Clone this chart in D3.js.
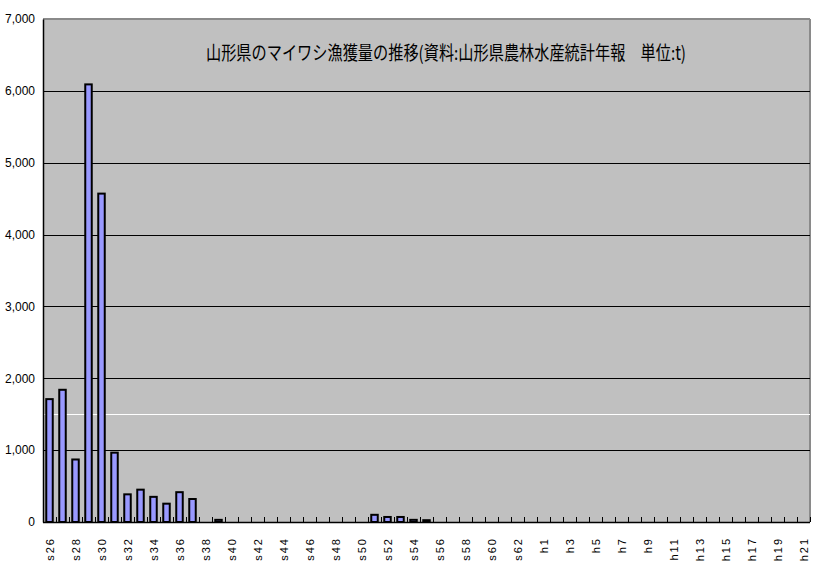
<!DOCTYPE html>
<html>
<head>
<meta charset="utf-8">
<script src="https://cdn.jsdelivr.net/npm/d3@7"></script>
<style>
  html, body { margin: 0; padding: 0; background: #ffffff; }
  svg { display: block; }
</style>
</head>
<body>
<svg id="chart" width="814" height="562"></svg>
<script>
// ---- data ----
const categories = [
  "s26","s27","s28","s29","s30","s31","s32","s33","s34","s35","s36","s37","s38","s39",
  "s40","s41","s42","s43","s44","s45","s46","s47","s48","s49","s50",
  "s51","s52","s53","s54","s55",
  "s56","s57","s58","s59","s60","s61","s62","s63",
  "h1","h2","h3","h4","h5","h6","h7","h8","h9","h10","h11","h12","h13","h14","h15","h16","h17","h18","h19","h20","h21"
];
const catchTonnes = [
  1710, 1840, 870, 6090, 4570, 965, 385, 450, 350, 255, 415, 320, 0, 30,
  0, 0, 0, 0, 0, 0, 0, 0, 0, 0, 0,
  100, 70, 70, 30, 25,
  0, 0, 0, 0, 0, 0, 0, 0,
  0, 0, 0, 0, 0, 0, 0, 0, 0, 0, 0, 0, 0, 0, 0, 0, 0, 0, 0, 0, 0
];
const xTickLabels = [
  "s26","s28","s30","s32","s34","s36","s38","s40","s42","s44","s46","s48","s50",
  "s52","s54","s56","s58","s60","s62",
  "h1","h3","h5","h7","h9","h11","h13","h15","h17","h19","h21"
];
const yTickValues = [0, 1000, 2000, 3000, 4000, 5000, 6000, 7000];
const gridValues = [1000, 2000, 3000, 4000, 5000, 6000];
const referenceValue = [1500];
const titleText = "山形県のマイワシ漁獲量の推移(資料:山形県農林水産統計年報\u3000単位:t)";

// ---- layout ----
const pLeft = 43, pRight = 810, pTop = 19, pBottom = 522;
const svg = d3.select("#chart");

const x = d3.scaleBand().domain(categories).range([pLeft, pRight])
  .paddingInner(0.5).paddingOuter(0.25);
const y = d3.scaleLinear().domain([0, 7000]).range([pBottom, pTop]);
const step = x.step();
const gap = (step - x.bandwidth()) / 2;

// plot area
svg.append("rect")
  .attr("x", pLeft).attr("y", pTop)
  .attr("width", pRight - pLeft).attr("height", pBottom - pTop)
  .attr("fill", "#c0c0c0");

// top & right border
svg.append("line").attr("x1", pLeft).attr("x2", pRight).attr("y1", pTop).attr("y2", pTop)
  .attr("stroke", "#8a8a8a").attr("stroke-width", 2);
svg.append("line").attr("x1", pRight).attr("x2", pRight).attr("y1", pTop).attr("y2", pBottom)
  .attr("stroke", "#8a8a8a").attr("stroke-width", 2);

// gridlines
svg.append("g").selectAll("line").data(gridValues).join("line")
  .attr("x1", pLeft).attr("x2", pRight)
  .attr("y1", d => Math.round(y(d)) + 0.5).attr("y2", d => Math.round(y(d)) + 0.5)
  .attr("stroke", "#000").attr("stroke-width", 1.2);

// white reference line
svg.append("g").selectAll("line").data(referenceValue).join("line")
  .attr("x1", pLeft).attr("x2", pRight)
  .attr("y1", d => Math.round(y(d)) + 0.5).attr("y2", d => Math.round(y(d)) + 0.5)
  .attr("stroke", "#ffffff").attr("stroke-width", 1.2);

// bars
svg.append("g").selectAll("rect").data(categories.map((c, i) => ({c, v: catchTonnes[i]})).filter(d => d.v > 0))
  .join("rect")
  .attr("x", d => x(d.c))
  .attr("y", d => y(d.v))
  .attr("width", x.bandwidth())
  .attr("height", d => y(0) - y(d.v))
  .attr("fill", "#9999ff")
  .attr("stroke", "#000")
  .attr("stroke-width", 2);

// x axis line and ticks (category boundaries, pointing up)
const xAxis = svg.append("g");
xAxis.append("line").attr("x1", pLeft).attr("x2", pRight)
  .attr("y1", pBottom + 0.5).attr("y2", pBottom + 0.5)
  .attr("stroke", "#000").attr("stroke-width", 1.5);
xAxis.selectAll("line.tick").data(categories).join("line")
  .attr("class", "tick")
  .attr("x1", d => Math.round(x(d) - gap + step) + 0.5)
  .attr("x2", d => Math.round(x(d) - gap + step) + 0.5)
  .attr("y1", pBottom).attr("y2", pBottom - 5)
  .attr("stroke", "#000").attr("stroke-width", 1);

// x labels (rotated)
xAxis.selectAll("text").data(xTickLabels).join("text")
  .attr("transform", d => `translate(${x(d) + x.bandwidth() / 2 + 4},537) rotate(-90)`)
  .attr("text-anchor", "end")
  .attr("font-family", "'Liberation Sans Narrow', 'Liberation Sans', Arial, sans-serif")
  .attr("font-size", 11)
  .attr("letter-spacing", "2px")
  .attr("fill", "#000")
  .text(d => d);

// y axis
const yAxis = svg.append("g").attr("transform", `translate(${pLeft},0)`)
  .call(d3.axisLeft(y).tickValues(yTickValues).tickSize(0).tickPadding(8).tickFormat(d3.format(",")));
yAxis.select(".domain").attr("stroke", "#000").attr("stroke-width", 1.5);
yAxis.selectAll("text")
  .attr("font-family", "'Liberation Sans Narrow', 'Liberation Sans', Arial, sans-serif")
  .attr("font-size", 12)
  .attr("fill", "#000");

// title
svg.append("text")
  .attr("x", 206).attr("y", 60)
  .attr("font-family", "'Noto Sans CJK JP', sans-serif")
  .attr("font-size", 19)
  .attr("textLength", 480)
  .attr("lengthAdjust", "spacingAndGlyphs")
  .attr("fill", "#000")
  .text(titleText);
</script>
</body>
</html>
